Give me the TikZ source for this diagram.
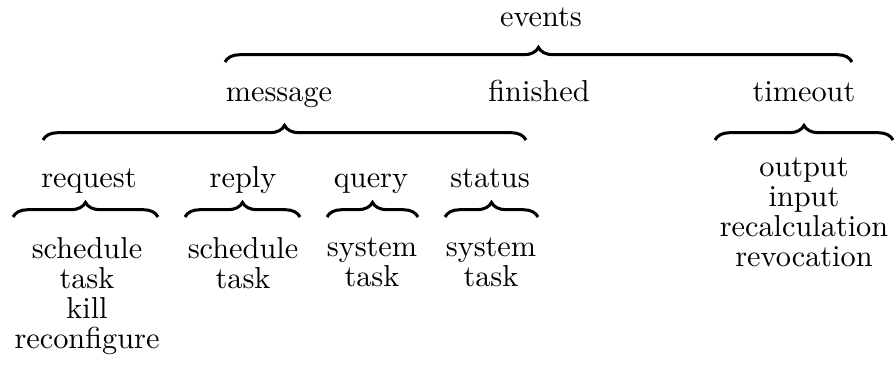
\documentclass[tikz,border=0pt]{standalone}
\usetikzlibrary{decorations.pathreplacing}
\begin{document}
\begin{tikzpicture}[x=0.33pt,y=-0.33pt,
 lbl/.style={anchor=base,inner sep=0pt},
 col/.style={anchor=north,inner sep=0pt,align=center,font=\fontsize{10}{9.9}\selectfont,execute at begin node=\strut},
 brc/.style={decorate,decoration={brace,amplitude=4.8pt},line width=1pt}]
 \useasboundingbox (0,0) rectangle (896,379);
 % top level
 \node[lbl] (ev) at (541,27) {events};
 \coordinate (ev-l) at (225,62); \coordinate (ev-r) at (852,62);
 \draw[brc] (ev-l) -- (ev-r);
 % second level
 \node[lbl] (msg) at (279,102) {message};
 \node[lbl] (fin) at (539,102) {finished};
 \node[lbl] (tmo) at (804,102) {timeout};
 \coordinate (msg-l) at (43,140); \coordinate (msg-r) at (526,140);
 \coordinate (tmo-l) at (715,140); \coordinate (tmo-r) at (893,140);
 \draw[brc] (msg-l) -- (msg-r);
 \draw[brc] (tmo-l) -- (tmo-r);
 % third level
 \node[lbl] (req) at (89,188) {request};
 \node[lbl] (rpl) at (243,188) {reply};
 \node[lbl] (qry) at (371,188) {query};
 \node[lbl] (sts) at (490,188) {status};
 \coordinate (req-l) at (13,217); \coordinate (req-r) at (158,217);
 \coordinate (rpl-l) at (185,217); \coordinate (rpl-r) at (300,217);
 \coordinate (qry-l) at (327,217); \coordinate (qry-r) at (418,217);
 \coordinate (sts-l) at (445,217); \coordinate (sts-r) at (538,217);
 \draw[brc] (req-l) -- (req-r);
 \draw[brc] (rpl-l) -- (rpl-r);
 \draw[brc] (qry-l) -- (qry-r);
 \draw[brc] (sts-l) -- (sts-r);
 % leaves
 \node[col] (req-t) at (87,237) {schedule\\task\\kill\\reconfigure};
 \node[col] (rpl-t) at (243,237) {schedule\\task};
 \node[col] (qry-t) at (372,237) {system\\task};
 \node[col] (sts-t) at (491,237) {system\\task};
 \node[col] (tmo-t) at (804,157) {output\\input\\recalculation\\revocation};
\end{tikzpicture}
\end{document}
